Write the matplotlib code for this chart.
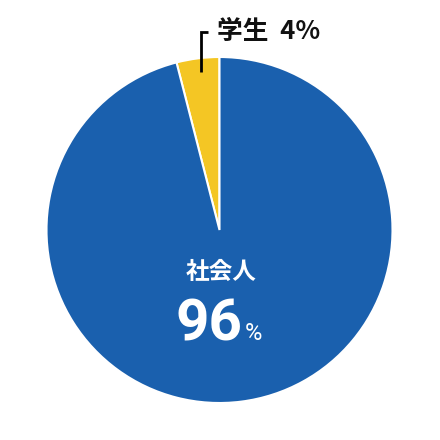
import matplotlib
matplotlib.use("Agg")
import matplotlib.pyplot as plt

labels = ["学生", "社会人"]
values = [4, 96]
colors = ["#f4c624", "#1a60ae"]

W = H = 440
fig = plt.figure(figsize=(4.4, 4.4), dpi=100)
ax = fig.add_axes([0, 0, 1, 1])

def py(y):
    return H - y

cx, cy, r = 219.5, py(230), 173
ax.pie(values, colors=colors, startangle=90, counterclock=True,
       center=(cx, cy), radius=r, frame=True,
       wedgeprops=dict(edgecolor="white", linewidth=1.5))
ax.set_xlim(0, W)
ax.set_ylim(0, H)
ax.set_aspect("equal")
ax.axis("off")

cjk = ["Noto Sans CJK JP", "DejaVu Sans"]

# leader line for the small slice
ax.plot([201, 201, 208], [py(72), py(32), py(32)], color="black", lw=2,
        solid_joinstyle="miter", solid_capstyle="butt")
ax.text(217, py(31), f"{labels[0]}  {values[0]}%", fontsize=18.5, fontweight="bold",
        family=cjk, color="#111111", ha="left", va="center")

# big slice label
ax.text(221, py(272), labels[1], fontsize=17, fontweight="bold",
        family=cjk, color="white", ha="center", va="center")
ax.text(243, py(340), f"{values[1]}", fontsize=42, fontweight="bold",
        family=["Roboto", "DejaVu Sans"], color="white", ha="right", va="baseline")
ax.text(245, py(340), "%", fontsize=17,
        family=["Roboto", "DejaVu Sans"], color="white", ha="left", va="baseline")

fig.savefig("out.png", dpi=100, facecolor="white")
